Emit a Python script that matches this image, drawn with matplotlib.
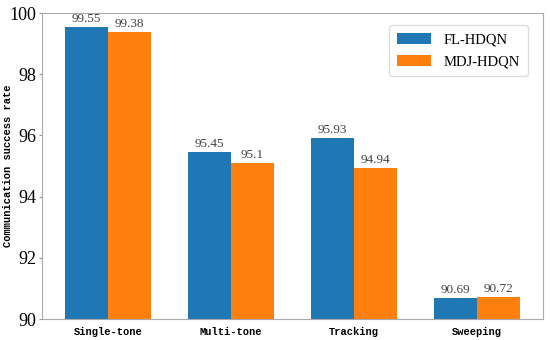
import matplotlib
matplotlib.use("Agg")
import matplotlib.pyplot as plt
import numpy as np

categories = ["Single-tone", "Multi-tone", "Tracking", "Sweeping"]
fl_hdqn = [99.55, 95.45, 95.93, 90.69]
mdj_hdqn = [99.38, 95.1, 94.94, 90.72]
series_names = ["FL-HDQN", "MDJ-HDQN"]

fig = plt.figure(figsize=(5.5, 3.4), dpi=100)
ax = fig.add_axes([42 / 550, 21 / 340, 501 / 550, 306 / 340])

x = np.arange(len(categories))
w = 0.35
b1 = ax.bar(x - w / 2, fl_hdqn, w, color="#1f77b4", label=series_names[0])
b2 = ax.bar(x + w / 2, mdj_hdqn, w, color="#ff7f0e", label=series_names[1])

for bars, vals in ((b1, fl_hdqn), (b2, mdj_hdqn)):
    for rect, v in zip(bars, vals):
        ax.text(rect.get_x() + rect.get_width() / 2, v + 0.06, f"{v:g}",
                ha="center", va="bottom", fontsize=9.5, family="Liberation Serif",
                color="#444444")

ax.set_ylim(90, 100)
ax.set_yticks([90, 92, 94, 96, 98, 100])
ax.set_xticks(x)
ax.set_xticklabels(categories, family="Liberation Mono", fontweight="bold", fontsize=7.5)
for lab in ax.get_yticklabels():
    lab.set_family("Liberation Serif")
    lab.set_fontsize(13)
ax.tick_params(axis="x", length=0, pad=6)
ax.tick_params(axis="y", length=2, pad=2, color="#999999")
ax.set_ylabel("Communication success rate", family="Liberation Mono",
              fontweight="bold", fontsize=7.5)
ax.yaxis.set_label_coords(-0.058, 0.5)

for s in ax.spines.values():
    s.set_color("#aaaaaa")

leg = ax.legend(loc="upper right", prop={"family": "Liberation Serif", "size": 10.5},
                handlelength=2.3, handleheight=0.8, borderpad=0.55, labelspacing=0.55,
                handletextpad=0.9, fancybox=True, framealpha=1, edgecolor="#dddddd",
                bbox_to_anchor=(0.985, 0.985))

fig.savefig("out.png", dpi=100)
